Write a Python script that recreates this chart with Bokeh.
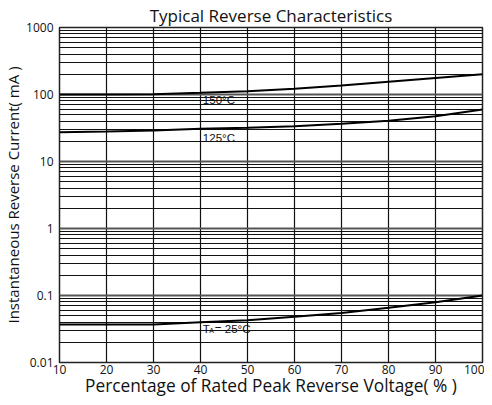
from bokeh.plotting import figure
from bokeh.models import FixedTicker, ColumnDataSource, CustomJSTickFormatter
from bokeh.core.properties import value
from bokeh.embed import file_html
from bokeh.resources import INLINE

# ---- data ----
voltage_pct = [10, 20, 30, 40, 50, 60, 70, 80, 90, 100]
current_150 = [100, 100, 101, 106, 112, 122, 136, 155, 177, 200]
current_125 = [27.4, 28, 29, 30.8, 32, 33.6, 36.5, 40.5, 47.5, 59.7]
current_25 = [0.037, 0.037, 0.037, 0.040, 0.0428, 0.048, 0.055, 0.0655, 0.079, 0.10]

x_ticks = [10, 20, 30, 40, 50, 60, 70, 80, 90, 100]
y_ticks = [0.01, 0.1, 1, 10, 100, 1000]
y_tick_labels = ["0.01", "0.1", "1", "10", "100", "1000"]

title_text = "Typical Reverse Characteristics"
x_title = "Percentage of Rated Peak Reverse Voltage( % )"
y_title = "Instantaneous Reverse Current( mA )"

label_x = 40.5
label_150 = (label_x, 84, "150°C")
label_125 = (label_x, 22.8, "125°C")
label_25_y = 0.032

minor = []
for d in [0.01, 0.1, 1, 10, 100]:
    for m in range(2, 10):
        minor.append(round(d * m, 6))

p = figure(frame_width=423, frame_height=335, y_axis_type="log",
           x_range=(10, 100), y_range=(0.01, 1000),
           output_backend="svg", toolbar_location=None,
           min_border_left=51, min_border_right=2,
           min_border_top=20, min_border_bottom=30)

p.title.text = title_text
p.title.align = "center"
p.title.text_font = "Open Sans"
p.title.text_font_size = "17px"
p.title.text_font_style = "normal"
p.title.text_color = "#111111"
p.title.standoff = 2

p.outline_line_color = "#222222"
p.outline_line_width = 1.5

# axes
p.xaxis.ticker = FixedTicker(ticks=x_ticks)
p.yaxis.ticker = FixedTicker(ticks=y_ticks, minor_ticks=minor)
p.yaxis.formatter = CustomJSTickFormatter(
    args=dict(vals=y_ticks, labs=y_tick_labels),
    code="""
    for (let i = 0; i < vals.length; i++) {
        if (Math.abs(Math.log10(tick) - Math.log10(vals[i])) < 1e-6) return labs[i];
    }
    return "";
    """)
for ax in (p.xaxis[0], p.yaxis[0]):
    ax.axis_line_color = None
    ax.major_tick_line_color = None
    ax.minor_tick_line_color = None
    ax.major_label_text_font = "Open Sans"
    ax.major_label_text_font_size = "12px"
    ax.major_label_text_color = "#111111"
    ax.axis_label_text_font = "Open Sans"
    ax.axis_label_text_font_style = "normal"
    ax.axis_label_text_color = "#111111"
p.xaxis.major_label_standoff = -4
p.xaxis.axis_label = x_title
p.xaxis.axis_label_text_font_size = "17.3px"
p.xaxis.axis_label_standoff = -3
p.yaxis.major_label_standoff = 0
p.yaxis.axis_label = y_title
p.yaxis.axis_label_text_font_size = "15px"
p.yaxis.axis_label_standoff = 0

# grid
p.xgrid.grid_line_color = "#111111"
p.xgrid.grid_line_width = 1.2
p.ygrid.grid_line_color = "#555555"
p.ygrid.grid_line_width = 2
p.ygrid.minor_grid_line_color = "#111111"
p.ygrid.minor_grid_line_width = 1

# curves
src = ColumnDataSource(dict(x=voltage_pct, a=current_150, b=current_125, c=current_25))
for col in ("a", "b", "c"):
    p.line("x", col, source=src, line_color="black", line_width=2)

lab_font = value("Liberation Sans")
for lx, ly, txt in (label_150, label_125):
    p.text(x=[lx], y=[ly], text=[txt], text_font=lab_font, text_font_size="11.5px",
           text_baseline="middle", text_align="left", text_color="#111111")
p.text(x=[label_x], y=[label_25_y], text=["T"], text_font=lab_font, text_font_size="11.5px",
       text_baseline="middle", text_align="left", text_color="#111111")
p.text(x=[label_x], y=[label_25_y], text=["A"], text_font=lab_font, text_font_size="7px",
       text_baseline="middle", text_align="left", text_color="#111111", x_offset=6.5, y_offset=2)
p.text(x=[label_x], y=[label_25_y], text=["= 25°C"], text_font=lab_font, text_font_size="11.5px",
       text_baseline="middle", text_align="left", text_color="#111111", x_offset=12)

open("out.html", "w").write(file_html(p, INLINE))
